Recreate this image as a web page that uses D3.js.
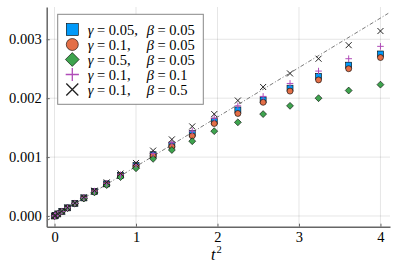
<!DOCTYPE html>
<html lang="en">
<head>
<meta charset="utf-8" />
<title>MSD vs t^2</title>
<style>
  body { margin: 0; background: #fff; }
  .axis path, .axis line { stroke: #666; }
  .grid line { stroke: #000; stroke-opacity: 0.1; }
</style>
</head>
<body>
<div id="chart"></div>
<script src="https://d3js.org/d3.v7.min.js"></script>
<script>
// t^2 sample points (t = 0, 0.1, ..., 2.0)
var t2 = [0, 0.01, 0.04, 0.09, 0.16, 0.25, 0.36, 0.49, 0.64, 0.81, 1.0,
          1.21, 1.44, 1.69, 1.96, 2.25, 2.56, 2.89, 3.24, 3.61, 4.0];

var g005b005 = [0, 0.0000087, 0.000035, 0.000078, 0.000138, 0.000214, 0.000307, 0.000416, 0.000545, 0.000690, 0.000855,
                0.00104, 0.001205, 0.00140, 0.00161, 0.00180, 0.00197, 0.00217, 0.00237, 0.00256, 0.00275];
var g01b005  = [0, 0.0000087, 0.000035, 0.000078, 0.000137, 0.000213, 0.000305, 0.000412, 0.000540, 0.000683, 0.000845,
                0.00102, 0.00118, 0.00136, 0.00157, 0.00174, 0.00193, 0.00212, 0.00231, 0.00250, 0.00269];
var g05b005  = [0, 0.0000086, 0.000034, 0.000077, 0.000135, 0.000210, 0.000298, 0.000400, 0.000525, 0.000660, 0.000810,
                0.00097, 0.00112, 0.00127, 0.00144, 0.00159, 0.00173, 0.00187, 0.00200, 0.00213, 0.00223];
var g01b01   = [0, 0.0000087, 0.000035, 0.000078, 0.000139, 0.000216, 0.000310, 0.000422, 0.000555, 0.000700, 0.000870,
                0.00106, 0.001245, 0.00144, 0.00166, 0.00187, 0.00203, 0.00225, 0.00246, 0.00267, 0.00288];
var g01b05   = [0, 0.0000088, 0.000035, 0.000079, 0.000140, 0.000219, 0.000316, 0.000430, 0.000570, 0.000720, 0.000900,
                0.00111, 0.00130, 0.00152, 0.00173, 0.00196, 0.00219, 0.00242, 0.00267, 0.00290, 0.00314];

var gammaLabels = ["0.05,", "0.1,", "0.5,", "0.1,", "0.1,"];
var betaLabels  = ["0.05", "0.05", "0.05", "0.1", "0.5"];

var refSlope = 0.00084;          // dash-dot reference line y = k t^2
var xTicks = [0, 1, 2, 3, 4];
var yTicks = [0, 0.001, 0.002, 0.003];

var FONT = "'Liberation Serif', 'Times New Roman', serif";

var width = 397, height = 264;
var svg = d3.select("#chart").append("svg")
    .attr("width", width).attr("height", height)
    .attr("font-family", FONT);

var x = d3.scaleLinear().domain([-0.096, 4.117]).range([46.7, 390]);
var y = d3.scaleLinear().domain([-0.000182, 0.003548]).range([226.7, 7]);

// grid
var grid = svg.append("g").attr("class", "grid");
grid.selectAll(".gx").data(xTicks).enter().append("line")
    .attr("x1", d => x(d)).attr("x2", d => x(d))
    .attr("y1", y.range()[0]).attr("y2", y.range()[1]);
grid.selectAll(".gy").data(yTicks).enter().append("line")
    .attr("y1", d => y(d)).attr("y2", d => y(d))
    .attr("x1", x.range()[0]).attr("x2", x.range()[1]);

// axes
var xAxis = svg.append("g").attr("class", "axis")
    .attr("transform", "translate(0," + y.range()[0] + ")")
    .call(d3.axisBottom(x).tickValues(xTicks).tickFormat(d3.format("d"))
      .tickSizeInner(-3).tickSizeOuter(0).tickPadding(5));
var yAxis = svg.append("g").attr("class", "axis")
    .attr("transform", "translate(" + x.range()[0] + ",0)")
    .call(d3.axisLeft(y).tickValues(yTicks).tickFormat(d3.format(".3f"))
      .tickSizeInner(-3).tickSizeOuter(0).tickPadding(5));
svg.selectAll(".axis").attr("font-family", FONT).attr("font-size", 14.5);
svg.selectAll(".axis path").attr("stroke-width", 1.5);

// x label t^2
var xl = svg.append("text").attr("x", 211).attr("y", 260).attr("font-size", 16);
xl.append("tspan").attr("font-style", "italic").text("t");
xl.append("tspan").attr("font-size", 10.5).attr("dy", -7).attr("dx", 1).text("2");

// reference line
var lineX = [x.domain()[0], 4.096];
svg.append("path")
    .datum(lineX)
    .attr("fill", "none").attr("stroke", "#7a7a7a").attr("stroke-width", 1)
    .attr("stroke-dasharray", "4,2,1,2")
    .attr("d", d3.line().x(d => x(d)).y(d => y(refSlope * d)));

// series
var series = [
  { vals: g005b005, shape: "square",  fill: "#009AFA", stroke: "#000" },
  { vals: g01b005,  shape: "circle",  fill: "#E36F47", stroke: "#000" },
  { vals: g05b005,  shape: "diamond", fill: "#3EA44E", stroke: "#000" },
  { vals: g01b01,   shape: "plus",    fill: "none",    stroke: "#B04CB8" },
  { vals: g01b05,   shape: "cross",   fill: "none",    stroke: "#222" }
];

function marker(sel, s, size) {
  var h = size / 2;
  if (s.shape === "square") {
    sel.append("rect").attr("x", -h).attr("y", -h).attr("width", size).attr("height", size)
       .attr("fill", s.fill).attr("stroke", s.stroke).attr("stroke-width", 0.6);
  } else if (s.shape === "circle") {
    sel.append("circle").attr("r", h).attr("fill", s.fill).attr("stroke", s.stroke).attr("stroke-width", 0.6);
  } else if (s.shape === "diamond") {
    var d = h * 1.15;
    sel.append("path").attr("d", "M0," + (-d) + "L" + d + ",0L0," + d + "L" + (-d) + ",0Z")
       .attr("fill", s.fill).attr("stroke", s.stroke).attr("stroke-width", 0.6);
  } else if (s.shape === "plus") {
    var p = h * 1.1;
    sel.append("path").attr("d", "M" + (-p) + ",0H" + p + "M0," + (-p) + "V" + p)
       .attr("stroke", s.stroke).attr("stroke-width", size > 8 ? 1.3 : 1);
  } else {
    var c = h * 1.0;
    sel.append("path").attr("d", "M" + (-c) + "," + (-c) + "L" + c + "," + c + "M" + (-c) + "," + c + "L" + c + "," + (-c))
       .attr("stroke", s.stroke).attr("stroke-width", size > 8 ? 1.3 : 1);
  }
}

series.forEach(function(s) {
  svg.append("g").selectAll("g").data(t2).enter().append("g")
    .attr("transform", (d, i) => "translate(" + x(d) + "," + y(s.vals[i]) + ")")
    .each(function() { marker(d3.select(this), s, 6); });
});

// legend
var leg = svg.append("g");
leg.append("rect").attr("x", 57.7).attr("y", 14.3).attr("width", 145.6).attr("height", 90)
   .attr("fill", "#fff").attr("stroke", "#888").attr("stroke-width", 1);
series.forEach(function(s, i) {
  var cy = 29.5 + i * 15;
  var mg = leg.append("g").attr("transform", "translate(72.3," + cy + ")");
  marker(mg, s, 12);
  var t1 = leg.append("text").attr("x", 87.7).attr("y", cy + 5).attr("font-size", 14.5);
  t1.append("tspan").attr("font-style", "italic").text("\u03b3");
  t1.append("tspan").text(" = " + gammaLabels[i]);
  var t2el = leg.append("text").attr("x", 146.7).attr("y", cy + 5).attr("font-size", 14.5);
  t2el.append("tspan").attr("font-style", "italic").text("\u03b2");
  t2el.append("tspan").text(" = " + betaLabels[i]);
});
</script>
</body>
</html>
